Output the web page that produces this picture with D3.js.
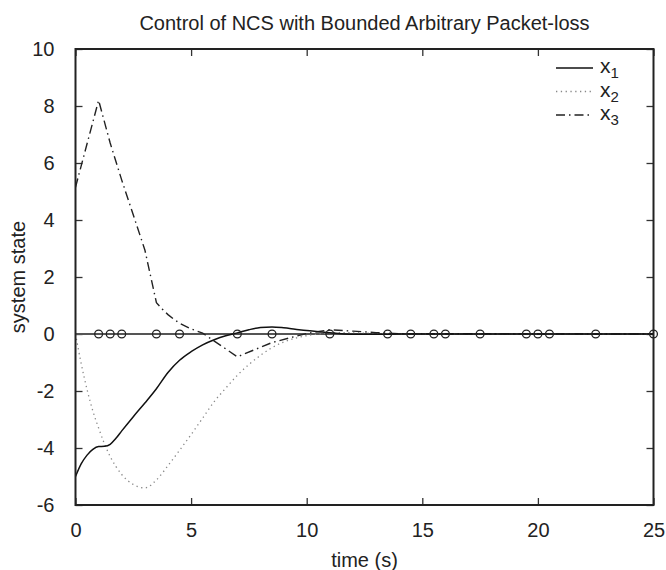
<!DOCTYPE html>
<html><head><meta charset="utf-8">
<script src="https://cdn.jsdelivr.net/npm/d3@7"></script>
<style>body{margin:0;background:#fff;} svg{display:block;} text{font-family:"Liberation Sans",Arial,sans-serif;fill:#222;}</style>
</head><body>
<svg id="chart" width="666" height="570"></svg>
<script>
const title = "Control of NCS with Bounded Arbitrary Packet-loss";
const xLabel = "time (s)";
const yLabel = "system state";
const xTicks = [0,5,10,15,20,25];
const yTicks = [-6,-4,-2,0,2,4,6,8,10];
const seriesNames = ["1","2","3"];

const tGrid = [0,0.25,0.5,0.75,1,1.25,1.5,1.75,2,2.5,3,3.5,4,4.5,5,5.5,6,6.5,7,7.5,8,8.5,9,9.5,10,10.5,11,11.5,12,13,14,25];
const x1 = [-5,-4.55,-4.25,-4.05,-3.95,-3.94,-3.87,-3.66,-3.4,-2.9,-2.42,-1.92,-1.35,-0.92,-0.62,-0.38,-0.2,-0.06,0.04,0.15,0.23,0.25,0.22,0.17,0.12,0.08,0.04,0.01,-0.01,-0.01,0,0];
const x2 = [0,-1.05,-1.95,-2.7,-3.3,-3.85,-4.3,-4.65,-4.93,-5.28,-5.4,-5.12,-4.62,-4.08,-3.53,-2.95,-2.37,-1.9,-1.45,-1.07,-0.75,-0.48,-0.28,-0.15,-0.06,0,0.04,0.05,0.04,0.02,0,0];
const t3 = [0,1,1.5,2,3,3.5,3.75,4,4.25,4.5,5,5.5,7,8.5,10,11,12,13,14,25];
const x3 = [5.15,8.2,6.7,5.4,2.95,1.1,0.88,0.68,0.52,0.38,0.18,0.03,-0.8,-0.3,0.02,0.15,0.1,0.05,0.01,0];
const lossTimes = [1,1.5,2,3.5,4.5,7,8.5,11,13.5,14.5,15.5,16,17.5,19.5,20,20.5,22.5,25];

const svg = d3.select("#chart");
const m = {l:75.5, r:653.5, t:49, b:505};
const x = d3.scaleLinear().domain([0,25]).range([m.l,m.r]);
const y = d3.scaleLinear().domain([-6,10]).range([m.b,m.t]);
const tickLen = 7;
const fs = 20;
const fmt = d => String(d);

const g = svg.append("g");
g.append("g").attr("transform",`translate(0,${m.b})`)
  .call(d3.axisBottom(x).tickValues(xTicks).tickSizeInner(-tickLen).tickSizeOuter(0).tickPadding(18).tickFormat(fmt))
  .call(s=>{s.select(".domain").remove();s.selectAll("text").attr("font-size",fs).attr("fill","#222");s.selectAll("line").attr("stroke","#333").attr("stroke-width",1.3);});
g.append("g").attr("transform",`translate(0,${m.t})`)
  .call(d3.axisTop(x).tickValues(xTicks).tickSizeInner(-tickLen).tickSizeOuter(0).tickFormat(""))
  .call(s=>{s.select(".domain").remove();s.selectAll("line").attr("stroke","#333").attr("stroke-width",1.3);});
g.append("g").attr("transform",`translate(${m.l},0)`)
  .call(d3.axisLeft(y).tickValues(yTicks).tickSizeInner(-tickLen).tickSizeOuter(0).tickPadding(21).tickFormat(fmt))
  .call(s=>{s.select(".domain").remove();s.selectAll("text").attr("font-size",fs).attr("fill","#222");s.selectAll("line").attr("stroke","#333").attr("stroke-width",1.3);});
g.append("g").attr("transform",`translate(${m.r},0)`)
  .call(d3.axisRight(y).tickValues(yTicks).tickSizeInner(-tickLen).tickSizeOuter(0).tickFormat(""))
  .call(s=>{s.select(".domain").remove();s.selectAll("line").attr("stroke","#333").attr("stroke-width",1.3);});

svg.append("line").attr("x1",x(0)).attr("x2",x(25)).attr("y1",y(0)).attr("y2",y(0))
  .attr("stroke","#555").attr("stroke-width",2);

svg.append("clipPath").attr("id","clip").append("rect")
  .attr("x",m.l).attr("y",m.t).attr("width",m.r-m.l).attr("height",m.b-m.t);

const line = d3.line().x(d=>x(d[0])).y(d=>y(d[1]));
const smooth = d3.line().x(d=>x(d[0])).y(d=>y(d[1])).curve(d3.curveMonotoneX);
const pl = svg.append("g").attr("clip-path","url(#clip)");

pl.append("path").datum(tGrid.map((t,i)=>[t,x2[i]])).attr("d",smooth)
  .attr("fill","none").attr("stroke","#888").attr("stroke-width",1.3).attr("stroke-dasharray","1.3,3.5");
pl.append("path").datum(t3.map((t,i)=>[t,x3[i]])).attr("d",line)
  .attr("fill","none").attr("stroke","#222").attr("stroke-width",1.4).attr("stroke-dasharray","9,4,1.5,4");
pl.append("path").datum(tGrid.map((t,i)=>[t,x1[i]])).attr("d",smooth)
  .attr("fill","none").attr("stroke","#111").attr("stroke-width",1.5);

svg.append("g").selectAll("circle").data(lossTimes).join("circle")
  .attr("cx",d=>x(d)).attr("cy",y(0)).attr("r",3.9)
  .attr("fill","none").attr("stroke","#222").attr("stroke-width",1.3);

svg.append("rect").attr("x",m.l).attr("y",m.t).attr("width",m.r-m.l).attr("height",m.b-m.t)
  .attr("fill","none").attr("stroke","#222").attr("stroke-width",2);

svg.append("text").attr("x",(m.l+m.r)/2).attr("y",30).attr("text-anchor","middle").attr("font-size",fs).text(title);
svg.append("text").attr("x",(m.l+m.r)/2).attr("y",567).attr("text-anchor","middle").attr("font-size",fs).text(xLabel);
svg.append("text").attr("transform",`translate(25,${(m.t+m.b)/2}) rotate(-90)`).attr("text-anchor","middle").attr("font-size",fs).text(yLabel);

const styles = [
  {stroke:"#111", dash:null, w:1.5},
  {stroke:"#888", dash:"1.3,3.5", w:1.3},
  {stroke:"#222", dash:"9,4,1.5,4", w:1.4}
];
seriesNames.forEach((n,i)=>{
  const ly = 68 + i*23.5;
  svg.append("line").attr("x1",556).attr("x2",593).attr("y1",ly).attr("y2",ly)
    .attr("stroke",styles[i].stroke).attr("stroke-width",styles[i].w).attr("stroke-dasharray",styles[i].dash);
  const t = svg.append("text").attr("x",600).attr("y",ly+5).attr("font-size",21);
  t.append("tspan").text("x");
  t.append("tspan").attr("font-size",15).attr("dy",5).text(n);
});
</script>
</body></html>
